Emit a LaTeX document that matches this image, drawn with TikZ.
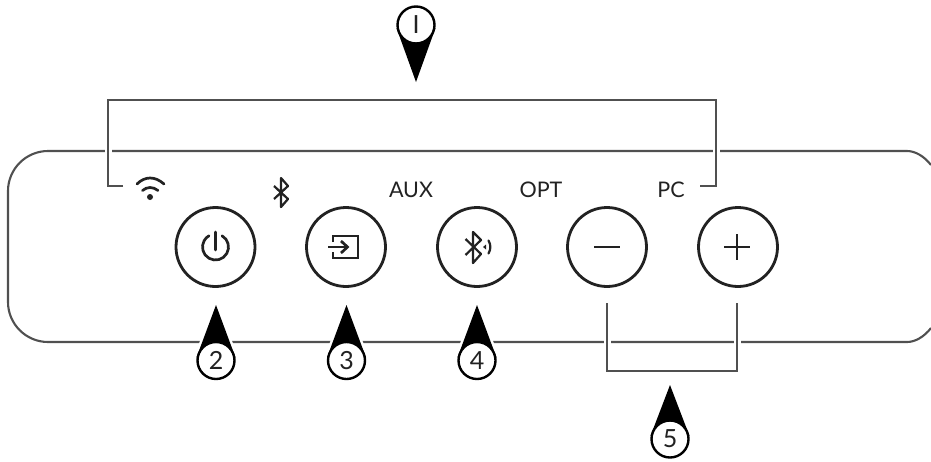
\documentclass[tikz,border=0pt]{standalone}
\usepackage{fontspec}
\usetikzlibrary{calc}
\setmainfont{Lato}
\definecolor{ink}{HTML}{222222}
\definecolor{rim}{HTML}{505050}
\tikzset{
  rimline/.style={draw=rim,line width=2.1pt},
  button/.style={circle,draw=ink,line width=2.8pt,minimum size=79pt,inner sep=0pt},
  pinhead/.style={circle,draw=black,fill=white,line width=2.4pt,minimum size=37pt,inner sep=0pt,font=\fontsize{25}{25}\selectfont,text=ink},
  lbl/.style={font=\fontsize{21.5}{22}\selectfont,text=ink,inner sep=0pt},
  icon/.style={draw=ink,line width=2.7pt},
  fine/.style={draw=ink,line width=2.2pt,line join=round}
}
% name, centre x, centre y, tip y, side of the tangent points (+1 tip below, -1 tip above), text
\newcommand{\callout}[6]{%
  \coordinate (c#1) at (#2,#3);
  \coordinate (t#1) at (#2,#4);
  \draw[white,fill=white,line width=5pt] (t#1) -- ($(c#1)+(19.5,#5*3)$) -- ($(c#1)+(-19.5,#5*3)$) -- cycle;
  \fill[white] (c#1) circle (22);
  \fill[black] (t#1) -- ($(c#1)+(19.5,#5*3)$) -- ($(c#1)+(-19.5,#5*3)$) -- cycle;
  \node[pinhead] (pin#1) at (c#1) {#6};
}
\begin{document}
\begin{tikzpicture}[x=1pt,y=-1pt]
\useasboundingbox (0,0) rectangle (931,461);
\fill[white] (0,0) rectangle (931,461);
% casing
\coordinate (k1) at (931,165);
\coordinate (k2) at (931,328);
\draw[rimline] (k1) .. controls (924,156) and (915,151) .. (907,151) -- (48,151)
  .. controls (26,151) and (8,169) .. (8,191) -- (8,302)
  .. controls (8,324) and (26,342) .. (48,342) -- (907,342)
  .. controls (915,342) and (924,337) .. (k2);
% bracket 1
\coordinate (a1) at (123,186); \coordinate (a2) at (108,186); \coordinate (a3) at (108,100);
\coordinate (a4) at (716,100); \coordinate (a5) at (716,186); \coordinate (a6) at (700,186);
\draw[white,line width=7pt] (a2) -- (a3) (a4) -- (a5);
\draw[rimline] (a1) -- (a2) -- (a3) -- (a4) -- (a5) -- (a6);
% bracket 5
\coordinate (b1) at (607,303); \coordinate (b2) at (607,371); \coordinate (b3) at (737,371); \coordinate (b4) at (737,303);
\draw[white,line width=7pt] (b1) -- (b2) (b3) -- (b4);
\draw[rimline] (b1) -- (b2) -- (b3) -- (b4);
% labels
\node[lbl] (aux) at (411,190) {AUX};
\node[lbl] (opt) at (541,190) {OPT};
\node[lbl] (pc) at (671,190) {PC};
% buttons
\node[button] (power) at (215.5,247) {};
\node[button] (input) at (346,247) {};
\node[button] (bt) at (477,247) {};
\node[button] (minus) at (607,247) {};
\node[button] (plus) at (738,247) {};
% wifi
\fill[ink] (150,197) circle (3);
\draw[icon,line cap=round] (137,184) .. controls (145,176) and (155,176) .. (164,184);
\draw[icon,line cap=round] (142.5,190.5) .. controls (147,186.5) and (153,186.5) .. (158,190.5);
% bluetooth status
\draw[fine] (274,186) -- (288,199) -- (281,207) -- (281,178) -- (288,186) -- (274,199);
% power icon
\draw[icon,line cap=round] (215.5,232) -- (215.5,250);
\begin{scope}[shift={(215.5,247)},y=1pt]
  \draw[icon,line cap=round] (60:13) arc[start angle=60,end angle=-240,radius=13];
\end{scope}
% input icon
\draw[icon,line join=miter] (333,242) -- (333,236) -- (358,236) -- (358,258) -- (333,258) -- (333,252);
\draw[icon] (328,247) -- (347,247);
\draw[icon] (341,241) -- (347.5,247) -- (341,253);
% bluetooth speaker icon
\draw[fine] (465.5,239) -- (481,254) -- (473,263) -- (473,232) -- (481,240) -- (465.5,255);
\fill[ink] (483,247) -- (486,244.5) -- (486,249.5) -- cycle;
\draw[fine,line cap=round] (488.5,240.5) .. controls (491,245) and (491,249) .. (488.5,253.5);
% minus, plus
\draw[icon] (594,247) -- (620,247);
\draw[icon] (724,247) -- (750,247) (737,234) -- (737,260);
% callouts
\callout{1}{416}{25}{82}{1}{I}
\callout{2}{216}{360.5}{305}{-1}{2}
\callout{3}{346.5}{360.5}{305}{-1}{3}
\callout{4}{477}{360.5}{305}{-1}{4}
\callout{5}{670}{439}{385}{-1}{5}
\end{tikzpicture}
\end{document}
